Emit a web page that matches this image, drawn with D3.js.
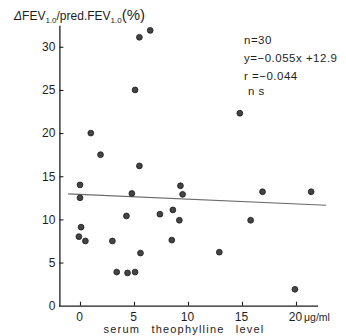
<!DOCTYPE html>
<html>
<head>
<meta charset="utf-8">
<script src="https://cdn.jsdelivr.net/npm/d3@7"></script>
<style>
  body { margin: 0; background: #fff; }
  svg { display: block; font-family: "Liberation Sans", Arial, sans-serif; }
</style>
</head>
<body>
<svg id="chart"></svg>
<script>
const width = 346
const height = 336

// serum theophylline level (ug/ml) vs dFEV1.0 / pred FEV1.0 (%)
const theo = [1.0, 1.9, 5.5, 0.0, 0.0, 4.8, 9.3, 9.5, 4.3, 7.4,
              8.6, 9.2, 0.1, -0.1, 0.5, 3.0, 8.5, 5.6, 12.9, 3.4,
              4.4, 5.1, 5.5, 6.5, 5.1, 14.8, 16.9, 21.4, 15.8, 19.9]
const dfev = [20.0, 17.5, 16.2, 14.0, 12.5, 13.0, 13.9, 12.9, 10.4, 10.6,
              11.1, 9.9, 9.1, 8.0, 7.5, 7.5, 7.6, 6.1, 6.2, 3.9,
              3.8, 3.9, 31.1, 31.9, 25.0, 22.3, 13.2, 13.2, 9.9, 1.9]

const xTicks = [0, 5, 10, 15, 20]
const yTicks = [0, 5, 10, 15, 20, 25, 30]

const slope = -0.055
const intercept = 12.9
const fitRange = [-1.1, 22.8]

const statLines = ["n=30", "y=\u22120.055x +12.9", "r =\u22120.044", "n s"]

const svg = d3.select("#chart")
    .attr("width", width)
    .attr("height", height)

const x = d3.scaleLinear().domain([-2, 22]).range([58.4, 317.6])
const y = d3.scaleLinear().domain([0, 32.5]).range([305.7, 25.2])

const ink = "#1e1e1e"

// axes
let xAxis = svg.append("g")
    .attr("transform", `translate(0,${y(0)})`)
    .call(d3.axisBottom(x).tickValues(xTicks).tickSizeInner(-4).tickSizeOuter(0).tickPadding(7))
xAxis.select(".domain").attr("stroke", ink).attr("stroke-width", 1.3)
xAxis.selectAll(".tick line").attr("stroke", ink).attr("stroke-width", 1.1)
xAxis.selectAll(".tick text")
    .attr("fill", ink)
    .attr("dx", -1)
    .style("font-size", "12px")

let yAxis = svg.append("g")
    .attr("transform", `translate(${x(-2) + 1},0)`)
    .call(d3.axisLeft(y).tickValues(yTicks).tickSizeInner(-4).tickSizeOuter(0).tickPadding(4))
yAxis.select(".domain").attr("stroke", ink).attr("stroke-width", 1.3)
yAxis.selectAll(".tick line").attr("stroke", ink).attr("stroke-width", 1.1)
    .attr("opacity", d => d == 0 ? 0 : 1)
yAxis.selectAll(".tick text")
    .attr("fill", ink)
    .style("font-size", "12px")

// regression line
svg.append("line")
    .attr("x1", x(fitRange[0]))
    .attr("y1", y(slope * fitRange[0] + intercept))
    .attr("x2", x(fitRange[1]))
    .attr("y2", y(slope * fitRange[1] + intercept))
    .attr("stroke", "#6a6a6a")
    .attr("stroke-width", 1.1)

// points
svg.append("g")
    .selectAll("circle")
    .data(theo)
    .enter()
    .append("circle")
    .attr("cx", d => x(d))
    .attr("cy", (d, i) => y(dfev[i]))
    .attr("r", 2.9)
    .attr("fill", "#444")
    .attr("stroke", "#1a1a1a")
    .attr("stroke-width", 0.8)

// y title
let title = svg.append("text")
    .attr("x", 14)
    .attr("y", 20)
    .attr("fill", ink)
    .style("font-size", "12px")
title.append("tspan").text("\u0394").style("font-style", "italic")
title.append("tspan").text("FEV")
title.append("tspan").text("1.0").attr("dy", 3).style("font-size", "8px")
title.append("tspan").text("/pred.FEV").attr("dy", -3)
title.append("tspan").text("1.0").attr("dy", 3).style("font-size", "8px")
title.append("tspan").text("(%)").attr("dy", -3).style("font-size", "15px")

// stats block
svg.append("g")
    .selectAll("text")
    .data(statLines)
    .enter()
    .append("text")
    .attr("x", (d, i) => i == 3 ? 248 : 244)
    .attr("y", (d, i) => [44, 62, 80, 95][i])
    .attr("fill", ink)
    .style("font-size", "11.5px")
    .style("letter-spacing", "0.5px")
    .text(d => d)

// x labels
svg.append("text")
    .attr("x", 304)
    .attr("y", 321)
    .attr("fill", ink)
    .style("font-size", "10.5px")
    .text("\u03bcg/ml")

svg.append("text")
    .attr("x", 184)
    .attr("y", 333)
    .attr("text-anchor", "middle")
    .attr("fill", ink)
    .style("font-size", "11px")
    .style("letter-spacing", "1.2px")
    .style("word-spacing", "7px")
    .text("serum theophylline level")
</script>
</body>
</html>
